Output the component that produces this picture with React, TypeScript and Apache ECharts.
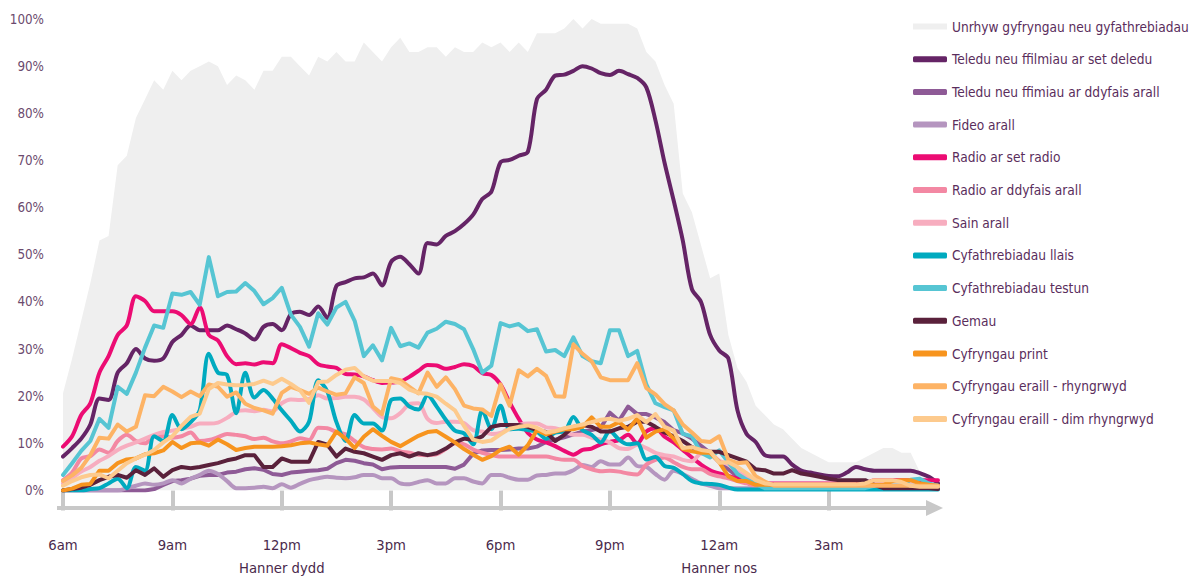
import React, { useEffect, useRef } from "react";
import * as echarts from "echarts";

const FONT = "'DejaVu Sans Condensed', 'Liberation Sans Narrow', sans-serif";

// 15-minute slots from 06:00 to 06:00 next day (97 points)
const timeSlots: string[] = [];
for (let i = 0; i <= 96; i++) {
  const mins = 360 + i * 15;
  const h = Math.floor(mins / 60) % 24;
  const m = mins % 60;
  timeSlots.push(`${String(h).padStart(2, "0")}:${String(m).padStart(2, "0")}`);
}

const tickEvery = 12;
const tickLabels = ["6am", "9am", "12pm\nHanner dydd", "3pm", "6pm", "9pm", "12am\nHanner nos", "3am"];

const seriesNames = [
  "Unrhyw gyfryngau neu gyfathrebiadau",
  "Teledu neu ffilmiau ar set deledu",
  "Teledu neu ffimiau ar ddyfais arall",
  "Fideo arall",
  "Radio ar set radio",
  "Radio ar ddyfais arall",
  "Sain arall",
  "Cyfathrebiadau llais",
  "Cyfathrebiadau testun",
  "Gemau",
  "Cyfryngau print",
  "Cyfryngau eraill - rhyngrwyd",
  "Cyfryngau eraill - dim rhyngrwyd",
];

const seriesColors = [
  "#efefef", "#652466", "#8e5a96", "#b595bf", "#ec0c73", "#f388a3", "#f7adbf",
  "#00aabf", "#56c5d3", "#5a213b", "#f7941e", "#fdb365", "#fdca8d",
];

const smoothSeries = [false, true, false, true, true, true, true, true, false, false, false, false, false];

const anyMedia = [
  20.6, 28, 36, 44, 53, 54, 69, 71, 79, 83, 87, 85, 89, 87, 89, 90, 91, 90, 86, 88,
  87, 85, 89, 89, 92, 92, 90, 88, 92, 91, 93, 91, 91, 95, 93, 91, 94, 96, 93, 93,
  94, 94, 92, 94, 93, 93, 95, 94, 95, 93, 95, 93, 97, 97, 97, 98, 100, 98, 100, 99,
  99, 99, 99, 98, 93, 91, 86, 82, 63, 59, 52, 45, 46, 33, 26, 23, 18, 16, 14, 13,
  11, 9, 8, 7, 6, 6, 6, 6, 7, 8, 9, 9, 8, 8, 4, 2, 0,
];

const tvSet = [
  7.2, 9, 11, 14, 19.5, 19.2, 25, 27, 30, 28, 27.5, 28, 31.5, 33, 35, 34, 34, 34, 35, 34.2,
  33.3, 32, 34.7, 35.3, 34, 37.4, 37.9, 37.2, 39, 36.6, 43.4, 44.2, 45, 45.2, 46, 43.5, 48.5, 49.6, 48, 46,
  52.5, 52.2, 54, 55, 56.5, 58.5, 61.8, 63.4, 69.6, 70.1, 71, 71.8, 83, 85, 88, 88.2, 89, 90, 89.5, 88.5,
  88.1, 89, 88.3, 87.5, 85.5, 78.5, 69.5, 61.5, 53, 42.7, 40, 33, 29.7, 28, 17, 12, 10.3, 7.5, 7.2, 7.2,
  5.5, 4.2, 3.8, 3.4, 3.1, 3, 3.8, 5, 4.5, 4.2, 4.2, 4.2, 4.2, 4.2, 3.7, 2.9, 1.5,
];

const tvOther = [
  0, 0, 0, 0, 0, 0, 0, 0, 0, 0, 0.3, 1.2, 2, 2.2, 2.5, 3.1, 3.3, 3.3, 3.8, 4,
  4.5, 4.7, 4.4, 3.5, 3.3, 3.8, 4, 4.2, 4.3, 4.6, 5.8, 6.5, 6.3, 5.8, 5.5, 4.5, 4.9, 5, 5, 5,
  5, 5, 5, 4.6, 5.5, 7.8, 8.5, 8.6, 8.6, 8.7, 8.9, 8.9, 9.3, 10.3, 10.8, 11.3, 11.9, 12.5, 12.8, 13.3,
  16.5, 14.8, 17.8, 16.2, 16.2, 15.5, 14.5, 12.8, 12.1, 11, 9.5, 8, 6, 4.5, 3, 2.2, 1.8, 1.5, 1, 1,
  1, 1, 1, 1, 1, 1, 1, 1, 1, 1, 1, 1, 1, 1, 1, 1, 1,
];

const videoOther = [
  0, 0, 0, 0, 0, 0, 0, 0.5, 1, 1.5, 1.2, 1.5, 2.2, 1.5, 2.5, 3.3, 4.2, 3.5, 2, 0.5,
  0.5, 0.6, 0.8, 0.5, 1.3, 0.6, 1.4, 2.2, 2.6, 2.9, 2.7, 2.6, 2.8, 3.3, 3.3, 2.6, 2.6, 1.5, 1.3, 1.8,
  2.2, 1.5, 1.5, 2.6, 2.6, 1.9, 1.5, 3.3, 3.3, 2.7, 2.3, 2.3, 3.2, 3.3, 3.6, 3.6, 4.3, 5.4, 5, 6.2,
  5.5, 5.5, 7, 5.2, 5, 3.5, 2.3, 4.2, 3.5, 2.5, 1.5, 1, 0.5, 0.5, 0.5, 0.5, 0.5, 0.5, 0.5, 0.5,
  0.5, 0.5, 0.5, 0.5, 0.5, 0.5, 0.5, 0.5, 0.5, 0.5, 0.5, 0.5, 0.5, 0.5, 0.5, 0.5, 0.5,
];

const radioSet = [
  9.3, 11.5, 16, 18.5, 25, 28.5, 33, 35, 41.2, 40.2, 38, 38, 38, 37.2, 35.3, 38.8, 33, 31.8, 28.5, 26.8,
  27, 26.7, 27.2, 27, 31, 30.2, 29.2, 28.5, 26.8, 26.3, 26, 24.7, 24.6, 24.2, 23.4, 22.8, 22.9, 23.1, 24.1, 25.4,
  26.6, 26.5, 25.8, 26.2, 26.8, 26.4, 24.9, 24.5, 22.5, 18.7, 15.2, 12.2, 10.8, 10.2, 9.4, 8.4, 7.6, 8.6, 8.9, 9.8,
  10.3, 10.7, 11.8, 10, 12.5, 13.2, 11.4, 10.2, 8.6, 7, 5.5, 4.3, 3.6, 3.1, 2.5, 2, 1.8, 1.5, 1.5, 1.5,
  1.5, 1.5, 1.5, 1.5, 1.5, 1.5, 1.5, 1.5, 1.5, 2.2, 2.2, 2.2, 2.2, 2.2, 2.2, 2.2, 2.2,
];

const radioOther = [
  2.2, 3.8, 6.8, 7.3, 8.7, 8, 10.5, 11.8, 10.5, 10, 11.5, 11.5, 11.2, 11.5, 12.3, 10.5, 10.7, 11.3, 12, 11.8,
  11.5, 10.9, 11.2, 10.4, 10, 10.4, 11.1, 10.7, 13.3, 13.2, 12.4, 11.9, 10.5, 9.2, 8.8, 8.7, 8.9, 8.3, 8, 7.6,
  7.5, 7.7, 8.8, 10, 9.8, 8.7, 8, 7.5, 7.2, 7.2, 7.2, 7.2, 7.2, 7.2, 6.8, 6.5, 6.5, 5.2, 4.5, 4.1,
  4.2, 4, 3.6, 3.4, 5.5, 6.5, 7, 6, 5, 4.5, 4.5, 3.5, 3, 2.6, 2, 1.5, 1, 1, 1, 1,
  1, 1, 1, 1, 0.8, 0.8, 0.8, 0.8, 0.8, 0.8, 0.8, 0.8, 0.8, 0.8, 0.8, 0.8, 0.8,
];

const audioOther = [
  1.5, 2.7, 4, 5, 6.3, 7.3, 8.6, 9.5, 10.2, 11, 11.8, 12.4, 12.7, 13.1, 13.5, 14.2, 14.2, 14.4, 15.4, 16.7,
  17, 16.8, 17.1, 16.8, 18.5, 19.3, 19.2, 19.4, 20.2, 19.5, 19.6, 19.9, 19.9, 19.3, 17.5, 15.6, 15.3, 16.4, 18.3, 18.5,
  15.2, 14.3, 14.6, 14.6, 14.3, 12.8, 12.5, 12, 12.2, 13.2, 13.9, 14.2, 14.2, 13.4, 13.2, 12.6, 11.8, 11.8, 11.2, 10.8,
  10.2, 9, 8.8, 9.7, 9, 8, 7.5, 7.2, 6.5, 6.2, 7.8, 7.8, 6.3, 5.5, 4, 2.9, 1.8, 1.2, 0.8, 0.8,
  0.8, 0.8, 0.8, 0.8, 0.8, 0.8, 0.8, 0.8, 0.8, 0.8, 0.8, 0.8, 0.8, 0.8, 0.8, 0.8, 0.8,
];

const voiceComms = [
  0, 0, 0, 0.3, 0.5, 1.5, 2.5, 0.5, 5, 4.2, 11.5, 10.5, 16, 13, 14.5, 17, 29, 25, 24.5, 16.4,
  25, 19.7, 21.3, 19.5, 17, 14.8, 12.5, 14.6, 23.4, 21, 14.5, 10.5, 16, 14.2, 14.2, 12.7, 19.2, 19.5, 17.8, 17.2,
  20.2, 17.8, 15, 12.7, 12.1, 9.8, 17, 13, 18, 13, 13.1, 12.8, 12.5, 11, 12.3, 12.5, 15.6, 12.8, 11.8, 10.2,
  12.6, 10.8, 9.8, 10, 6.6, 7.1, 5.2, 4.8, 3.5, 2, 1.5, 1.4, 1.2, 0.6, 0.2, 0.2, 0.2, 0.2, 0.2, 0.2,
  0.2, 0.2, 0.2, 0.2, 0.2, 0.2, 0.2, 0.2, 0.2, 0.2, 0.2, 0.2, 0.2, 0.2, 0.2, 0.2, 0.2,
];

const textComms = [
  3.3, 5.8, 8.4, 10.5, 15.2, 13.3, 22, 20.5, 25, 30.3, 35, 34.5, 41.8, 41.5, 42.1, 39.4, 49.5, 41.2, 42.1, 42.2,
  44, 42.3, 39.5, 40.8, 43, 37.3, 34.7, 30.5, 37.6, 35.2, 38.8, 40, 36, 28.5, 30.8, 27.6, 34.5, 30.6, 31.2, 30.3,
  33.5, 34.3, 35.8, 35.3, 34.2, 30, 25, 26.5, 35.5, 34.8, 35.3, 33.8, 34.2, 29.5, 29.8, 28.5, 32.5, 28.5, 27.4, 27,
  34, 34, 28.5, 29.6, 22.5, 18.5, 17.7, 17, 12, 11.5, 8, 7, 8.5, 6, 3.5, 2.3, 1.4, 0.5, 0.5, 0.5,
  0.5, 0.5, 0.5, 0.5, 0.5, 0.5, 0.5, 0.5, 0.5, 1, 1, 1, 1, 2.3, 2.5, 1.5, 1,
];

const games = [
  0, 0.3, 0.6, 1.2, 2.2, 2.9, 3.3, 2.7, 4.3, 3.3, 4.7, 2.9, 4.3, 5, 4.7, 5, 5.4, 5.8, 6.4, 6.8,
  7.5, 7.5, 5, 5, 6.8, 6.1, 6.1, 6.1, 10.3, 9.7, 7.2, 8.9, 8.2, 7.9, 7.2, 6.5, 7.5, 7.9, 7.2, 7.9,
  7.5, 7.9, 8.9, 10.2, 11, 10.7, 11.5, 13.5, 13.9, 13.9, 13.9, 13.5, 12.8, 12.4, 10.5, 11.8, 13.5, 13.9, 13.5, 12.5,
  12.5, 13.2, 13.5, 14.6, 14.6, 13.5, 12.3, 11.5, 10.5, 9.2, 8.2, 8.2, 8.2, 7.5, 6.8, 6.1, 4.5, 4.3, 3.6, 3.6,
  4.3, 3.6, 3.3, 2.9, 2.5, 2.2, 2.2, 2.2, 2.2, 1.2, 0.5, 0.5, 0.5, 0.5, 0.5, 0.5, 0.3,
];

const printMedia = [
  0, 0.4, 1.2, 1.4, 4.2, 4.2, 5.8, 6.6, 6.8, 7.7, 7.9, 8.5, 10.3, 9, 10, 10.2, 9.5, 10.8, 9.8, 8.6,
  9, 9.3, 9.3, 9.3, 9.4, 9.6, 10, 10.2, 9.8, 9.5, 12.5, 11, 9, 11.4, 13, 11.6, 10.3, 9.4, 10.5, 11.6,
  12.4, 12.6, 11.4, 10.2, 8.8, 7.6, 6.5, 7.3, 8.6, 9.3, 7.6, 9.6, 12.8, 11.9, 12.5, 13, 13, 13.5, 15.5, 13.5,
  13.5, 14.5, 12.9, 15.3, 11.2, 12.5, 13, 11, 8.8, 8.3, 8, 8, 6, 3, 2, 2, 1.2, 1.2, 1.2, 1.2,
  1.2, 1.2, 1.2, 1.2, 1.2, 1.2, 1.2, 1.2, 1.2, 1.2, 1.2, 2, 2.2, 2.2, 1.5, 1.2, 1,
];

const otherOnline = [
  2, 3.2, 4.8, 7.5, 11.2, 11, 14, 12.5, 13.5, 20.2, 20, 22, 21, 19.8, 21, 20, 22.5, 22, 19.9, 20.8,
  18.4, 17.5, 17, 16.3, 20.7, 22, 21.3, 20.5, 21.8, 21, 20.3, 20.6, 24, 22.8, 17.8, 16.2, 23.8, 23.4, 22, 20.6,
  25, 22, 24, 21.5, 18, 17.4, 17.2, 15.8, 22.5, 18, 25.5, 24.2, 25.8, 24.3, 20, 19.9, 31, 29, 27.4, 24,
  23.4, 23.4, 23.4, 27, 21.7, 20.4, 18.3, 17, 14, 12.3, 10.5, 10.3, 11.5, 6.5, 5.8, 6, 3, 1.9, 1, 1,
  1, 1, 1, 1, 1, 1, 1, 1, 1, 1, 1, 1, 1, 1, 1, 1, 1,
];

const otherOffline = [
  1, 2, 2.8, 3.3, 3.4, 2.6, 4.2, 5.8, 6.8, 7.6, 8.6, 10.2, 11.5, 13.7, 15.6, 16.3, 21.5, 22.8, 22.5, 22.3,
  22.4, 22.6, 23.3, 22.6, 23.7, 22.6, 21.3, 18.6, 23, 23.1, 24.5, 25.6, 26, 24.2, 23.3, 23.2, 23.2, 22.8, 21.4, 20.7,
  20.5, 19.9, 18.4, 17, 13.7, 10.8, 10.3, 10.6, 11.9, 13.1, 13.5, 13.8, 13.3, 12.3, 12.6, 13.2, 13.6, 14, 14.5, 15,
  15.2, 14.8, 15.2, 16, 14.5, 16.2, 13.5, 12.7, 9, 9.2, 8.6, 8.3, 5.9, 6, 5, 3.7, 2.2, 1.5, 1.3, 1.3,
  1.3, 1.3, 1.3, 1.3, 1.3, 1.3, 1.3, 1.3, 1.5, 2.2, 2.2, 2.2, 1.8, 1, 0.8, 0.8, 0.8,
];

const seriesData = [
  anyMedia, tvSet, tvOther, videoOther, radioSet, radioOther, audioOther,
  voiceComms, textComms, games, printMedia, otherOnline, otherOffline,
];

const isTick = (index: number) => index % tickEvery === 0 && index < 96;

const AXIS_GREY = "#c8c8c8";

export default function App() {
  const ref = useRef<HTMLDivElement>(null);

  useEffect(() => {
    if (!ref.current) return;
    const chart = echarts.init(ref.current, undefined, { renderer: "svg" });

    const series: any[] = seriesNames.map((name, i) => {
      if (i === 0) {
        return {
          name,
          type: "line",
          data: seriesData[i],
          color: seriesColors[i],
          symbol: "none",
          showSymbol: false,
          lineStyle: { width: 0, color: seriesColors[i] },
          areaStyle: { color: seriesColors[i], opacity: 1 },
          emphasis: { disabled: true },
          z: 1,
        };
      }
      return {
        name,
        type: "line",
        data: seriesData[i],
        color: seriesColors[i],
        symbol: "none",
        showSymbol: false,
        smooth: smoothSeries[i] ? 0.3 : false,
        lineStyle: { width: 4, color: seriesColors[i], cap: "round", join: "round" },
        emphasis: { disabled: true },
        z: 2,
      };
    });

    chart.setOption({
      animation: false,
      grid: { left: 63, right: 251, top: 19, bottom: 88.5, containLabel: false },
      graphic: [
        {
          type: "line",
          shape: { x1: 57, y1: 508, x2: 930, y2: 508 },
          style: { stroke: AXIS_GREY, lineWidth: 4 },
          silent: true,
        },
        {
          type: "polygon",
          shape: { points: [[926, 500], [943, 508], [926, 516]] },
          style: { fill: AXIS_GREY },
          silent: true,
        },
      ],
      legend: {
        orient: "vertical",
        left: 908,
        top: 12.5,
        itemWidth: 34,
        itemHeight: 6,
        itemGap: 14.7,
        icon: "roundRect",
        selectedMode: false,
        textStyle: { color: "#5a2d5c", fontSize: 13.6, fontFamily: FONT, lineHeight: 18 },
        data: seriesNames.map((n, i) => (i === 0 ? { name: n, icon: "rect" } : { name: n })),
      },
      xAxis: {
        type: "category",
        data: timeSlots,
        boundaryGap: false,
        offset: 17.5,
        axisLine: { show: false },
        axisTick: {
          show: true,
          interval: isTick,
          length: 20,
          lineStyle: { color: AXIS_GREY, width: 4 },
        },
        axisLabel: {
          interval: isTick,
          formatter: (_v: string, index: number) => tickLabels[index / tickEvery] ?? "",
          color: "#4a2a4c",
          fontSize: 14.7,
          lineHeight: 23,
          margin: 25,
          fontFamily: FONT,
        },
        splitLine: { show: false },
      },
      yAxis: {
        type: "value",
        min: 0,
        max: 100,
        interval: 10,
        axisLine: { show: false },
        axisTick: { show: false },
        splitLine: { show: false },
        axisLabel: {
          formatter: "{value}%",
          margin: 19,
          color: "#6b4a6e",
          fontSize: 13.3,
          fontFamily: FONT,
        },
      },
      series,
    });

    return () => chart.dispose();
  }, []);

  return (
    <div
      ref={ref}
      style={{ position: "fixed", left: 0, top: 0, width: 1189, height: 579, background: "#ffffff" }}
    />
  );
}
